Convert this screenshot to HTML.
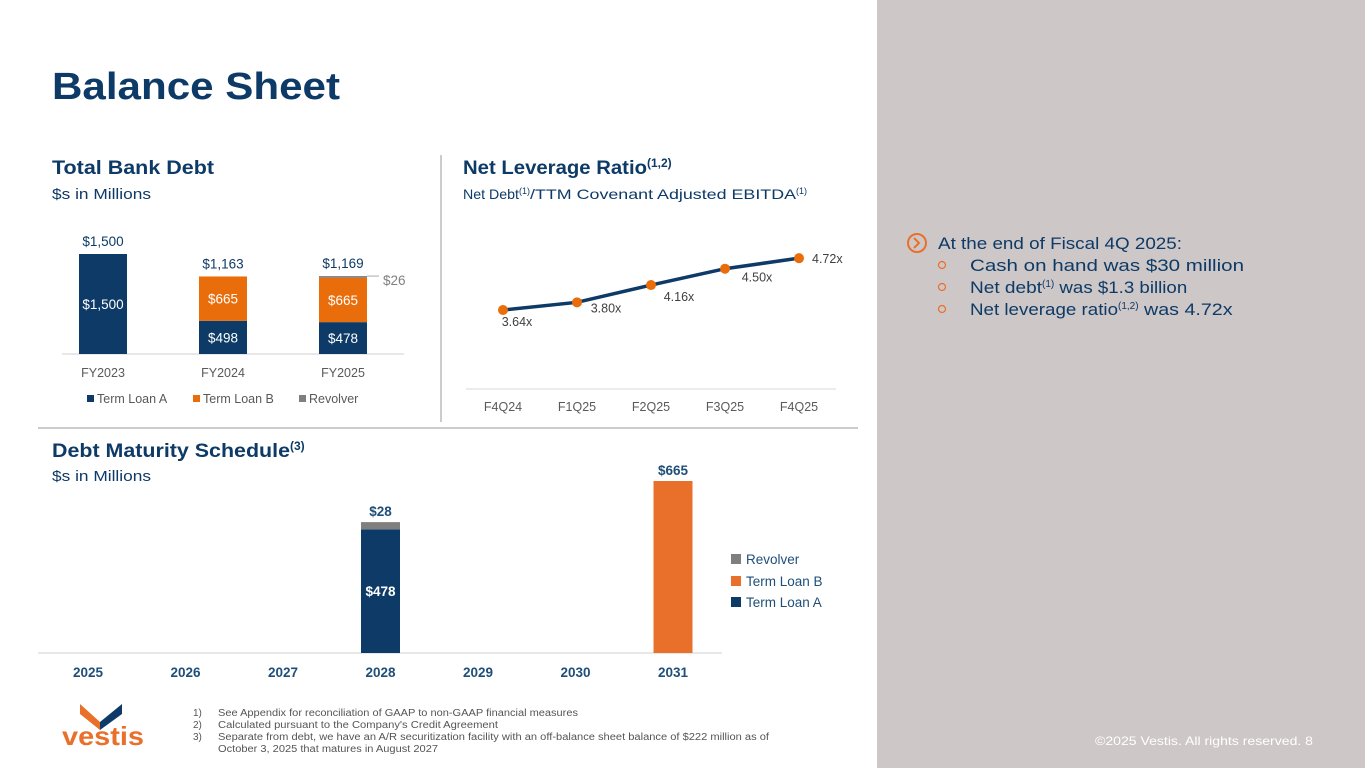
<!DOCTYPE html>
<html><head><meta charset="utf-8">
<style>
html,body{margin:0;padding:0;width:1365px;height:768px;overflow:hidden;background:#fff;font-family:"Liberation Sans",sans-serif;}
svg text{font-family:"Liberation Sans",sans-serif;}
</style></head>
<body>
<svg id="s" width="1365" height="768" xmlns="http://www.w3.org/2000/svg">
<rect x="877" y="0" width="488" height="768" fill="#cdc7c7"/>
<text x="52" y="99" font-size="38" font-weight="bold" fill="#0d3a66" textLength="288" lengthAdjust="spacingAndGlyphs">Balance Sheet</text>

<text x="52" y="174" font-size="19" font-weight="bold" fill="#0d3a66" textLength="162" lengthAdjust="spacingAndGlyphs">Total Bank Debt</text>
<text x="52" y="199" font-size="15" fill="#0d3a66" textLength="99" lengthAdjust="spacingAndGlyphs">$s in Millions</text>

<line x1="441" y1="155" x2="441" y2="422" stroke="#bbb" stroke-width="1.5"/>
<line x1="38" y1="428" x2="858" y2="428" stroke="#bbb" stroke-width="1.5"/>

<text x="463" y="174" font-size="19" font-weight="bold" fill="#0d3a66"><tspan textLength="184" lengthAdjust="spacingAndGlyphs">Net Leverage Ratio</tspan><tspan font-size="12" dy="-7">(1,2)</tspan></text>
<text x="463" y="199" font-size="14" fill="#0d3a66"><tspan textLength="56" lengthAdjust="spacingAndGlyphs">Net Debt</tspan><tspan font-size="9" dy="-5">(1)</tspan><tspan dy="5" textLength="266" lengthAdjust="spacingAndGlyphs">/TTM Covenant Adjusted EBITDA</tspan><tspan font-size="9" dy="-5">(1)</tspan></text>

<text x="52" y="457" font-size="19" font-weight="bold" fill="#0d3a66"><tspan textLength="238" lengthAdjust="spacingAndGlyphs">Debt Maturity Schedule</tspan><tspan font-size="12" dy="-7">(3)</tspan></text>
<text x="52" y="481" font-size="15" fill="#0d3a66" textLength="99" lengthAdjust="spacingAndGlyphs">$s in Millions</text>

<g id="bankChart"></g>
<g id="levChart"></g>
<g id="matChart"></g>

<g>
<circle cx="917" cy="243" r="9" fill="none" stroke="#e8702a" stroke-width="2"/>
<path d="M914 238 L919 243 L914 248" fill="none" stroke="#e8702a" stroke-width="2"/>
<text x="938" y="249" font-size="17" fill="#0d3a66" textLength="244" lengthAdjust="spacingAndGlyphs">At the end of Fiscal 4Q 2025:</text>
<circle cx="942" cy="265" r="3.5" fill="none" stroke="#e8702a" stroke-width="1.2"/>
<text x="970" y="271" font-size="17" fill="#0d3a66" textLength="274" lengthAdjust="spacingAndGlyphs">Cash on hand was $30 million</text>
<circle cx="942" cy="287" r="3.5" fill="none" stroke="#e8702a" stroke-width="1.2"/>
<text x="970" y="293" font-size="17" fill="#0d3a66"><tspan textLength="72" lengthAdjust="spacingAndGlyphs">Net debt</tspan><tspan font-size="10" dy="-6">(1)</tspan><tspan dy="6" textLength="133" lengthAdjust="spacingAndGlyphs"> was $1.3 billion</tspan></text>
<circle cx="942" cy="309" r="3.5" fill="none" stroke="#e8702a" stroke-width="1.2"/>
<text x="970" y="315" font-size="17" fill="#0d3a66"><tspan textLength="148" lengthAdjust="spacingAndGlyphs">Net leverage ratio</tspan><tspan font-size="10" dy="-6">(1,2)</tspan><tspan dy="6" textLength="94" lengthAdjust="spacingAndGlyphs"> was 4.72x</tspan></text>
</g>

<g>
<path d="M80 704 L100 722 L100 730 L80 714 Z" fill="#e8702a"/>
<path d="M100 722 L122 704 L122 714 L100 730 Z" fill="#0d3a66"/>
<text x="62" y="745" font-size="26" font-weight="bold" fill="#e8702a" textLength="82" lengthAdjust="spacingAndGlyphs">vestis</text>
</g>
<g font-size="10" fill="#555">
<text x="193" y="716">1)</text><text x="218" y="716" textLength="360" lengthAdjust="spacingAndGlyphs">See Appendix for reconciliation of GAAP to non-GAAP financial measures</text>
<text x="193" y="728">2)</text><text x="218" y="728" textLength="280" lengthAdjust="spacingAndGlyphs">Calculated pursuant to the Company's Credit Agreement</text>
<text x="193" y="740">3)</text><text x="218" y="740" textLength="551" lengthAdjust="spacingAndGlyphs">Separate from debt, we have an A/R securitization facility with an off-balance sheet balance of $222 million as of</text>
<text x="218" y="752" textLength="220" lengthAdjust="spacingAndGlyphs">October 3, 2025 that matures in August 2027</text>
</g>
<text x="1313" y="745" font-size="12" fill="#fff" text-anchor="end" textLength="218" lengthAdjust="spacingAndGlyphs">©2025 Vestis. All rights reserved.  8</text>
</svg>
<script>
const NS='http://www.w3.org/2000/svg';
// Total bank debt
const bankYears=['FY2023','FY2024','FY2025'];
const termA=[1500,498,478];
const termB=[0,665,665];
const revolver=[0,0,26];
const bankTotals=['$1,500','$1,163','$1,169'];
// Net leverage
const levQuarters=['F4Q24','F1Q25','F2Q25','F3Q25','F4Q25'];
const levValues=[3.64,3.80,4.16,4.50,4.72];
// Maturity
const matYears=['2025','2026','2027','2028','2029','2030','2031'];
const matTermA=[0,0,0,478,0,0,0];
const matTermB=[0,0,0,0,0,0,665];
const matRevolver=[0,0,0,28,0,0,0];

const NAVY='#0d3a66',ORANGE='#ea6d0c',ORANGE2='#e8702a',GREY='#7f7f7f';
function el(tag,attrs,parent,txt){const e=document.createElementNS(NS,tag);for(const k in attrs)e.setAttribute(k,attrs[k]);if(txt!==undefined)e.textContent=txt;parent.appendChild(e);return e;}

// bank chart
(function(){
const g=document.getElementById('bankChart');
const base=354, sc=100/1500, bx=i=>103+i*120, bw=48;
const y=v=>base-v*sc;
el('line',{x1:62,y1:base,x2:404,y2:base,stroke:'#d0d0d0','stroke-width':1},g);
bankYears.forEach((c,i)=>{
  let cum=0;
  [[termA,NAVY,'term-loan-a'],[termB,ORANGE,'term-loan-b'],[revolver,GREY,'revolver']].forEach(([arr,col,nm])=>{
    const v=arr[i]; if(!v) return;
    const r=el('rect',{x:bx(i)-bw/2,y:y(cum+v),width:bw,height:v*sc,fill:col},g);
    
    
    if(nm!=='revolver'){const t=el('text',{x:bx(i),y:y(cum+v/2)+5,'font-size':13.5,fill:'#fff','text-anchor':'middle'},g,'$'+v.toLocaleString('en-US'));
      }
    else{el('line',{x1:bx(i)+bw/2,y1:y(cum+v),x2:bx(i)+bw/2+12,y2:y(cum+v),stroke:'#aaa'},g);
      const t=el('text',{x:bx(i)+bw/2+16,y:y(cum+v)+9,'font-size':13.5,fill:'#7f7f7f'},g,'$'+v);
      }
    cum+=v;
  });
  const tt=el('text',{x:bx(i),y:y(termA[i]+termB[i]+revolver[i])-8,'font-size':13.5,fill:NAVY,'text-anchor':'middle'},g,bankTotals[i]);
  
  const xl=el('text',{x:bx(i),y:377,'font-size':12.5,fill:'#595959','text-anchor':'middle'},g,c);
  
});
[['Term Loan A',NAVY,87],['Term Loan B',ORANGE,193],['Revolver',GREY,299]].forEach(([n,c,x])=>{
  const lg=el('g',{},g);
  
  el('rect',{x:x,y:395,width:7,height:7,fill:c},lg);
  el('text',{x:x+10,y:403,'font-size':12.5,fill:'#595959'},lg,n);
});
})();

// leverage
(function(){
const g=document.getElementById('levChart');
const x=i=>503+i*74, y=v=>310-(v-3.64)*48;
const dx=[14,29,28,32,13], dy=[16,10,16,13,5];
el('line',{x1:466,y1:389,x2:836,y2:389,stroke:'#d9d9d9'},g);
const pts=levValues.map((v,i)=>x(i)+','+y(v)).join(' ');
const pl=el('polyline',{points:pts,fill:'none',stroke:NAVY,'stroke-width':3.5},g);

levValues.forEach((v,i)=>{
  const c=el('circle',{cx:x(i),cy:y(v),r:5,fill:ORANGE},g);
  
  const t=el('text',{x:x(i)+dx[i],y:y(v)+dy[i],'font-size':12.5,fill:'#404040','text-anchor':i===4?'start':'middle'},g,v.toFixed(2)+'x');
  
  const xl=el('text',{x:x(i),y:411,'font-size':12.5,fill:'#595959','text-anchor':'middle'},g,levQuarters[i]);
  
});
})();

// maturity
(function(){
const g=document.getElementById('matChart');
const base=653, sc=172/665, x=i=>88+i*97.5, bw=39;
const y=v=>base-v*sc;
el('line',{x1:38,y1:base,x2:722,y2:base,stroke:'#d0d0d0'},g);
matYears.forEach((c,i)=>{
  let cum=0;
  [[matTermA,NAVY,'term-loan-a'],[matTermB,ORANGE2,'term-loan-b'],[matRevolver,GREY,'revolver']].forEach(([arr,col,nm])=>{
    const v=arr[i]; if(!v) return;
    const r=el('rect',{x:x(i)-bw/2,y:y(cum+v),width:bw,height:v*sc,fill:col},g);
    
    
    if(nm==='term-loan-a'){const t=el('text',{x:x(i),y:y(cum+v/2)+5,'font-size':13.5,'font-weight':'bold',fill:'#fff','text-anchor':'middle'},g,'$'+v);
      }
    else{const t=el('text',{x:x(i),y:y(cum+v)-6,'font-size':13.5,'font-weight':'bold',fill:'#1f4e79','text-anchor':'middle'},g,'$'+v);
      }
    cum+=v;
  });
  const xl=el('text',{x:x(i),y:677,'font-size':13.5,'font-weight':'bold',fill:'#1f4e79','text-anchor':'middle'},g,c);
  
});
[['Revolver',GREY,559],['Term Loan B',ORANGE2,581],['Term Loan A',NAVY,602]].forEach(([n,c,yy])=>{
  const lg=el('g',{},g);
  
  el('rect',{x:731,y:yy-5,width:10,height:10,fill:c},lg);
  el('text',{x:746,y:yy+5,'font-size':13.5,fill:'#1f4e79'},lg,n);
});
})();
</script>
</body></html>
